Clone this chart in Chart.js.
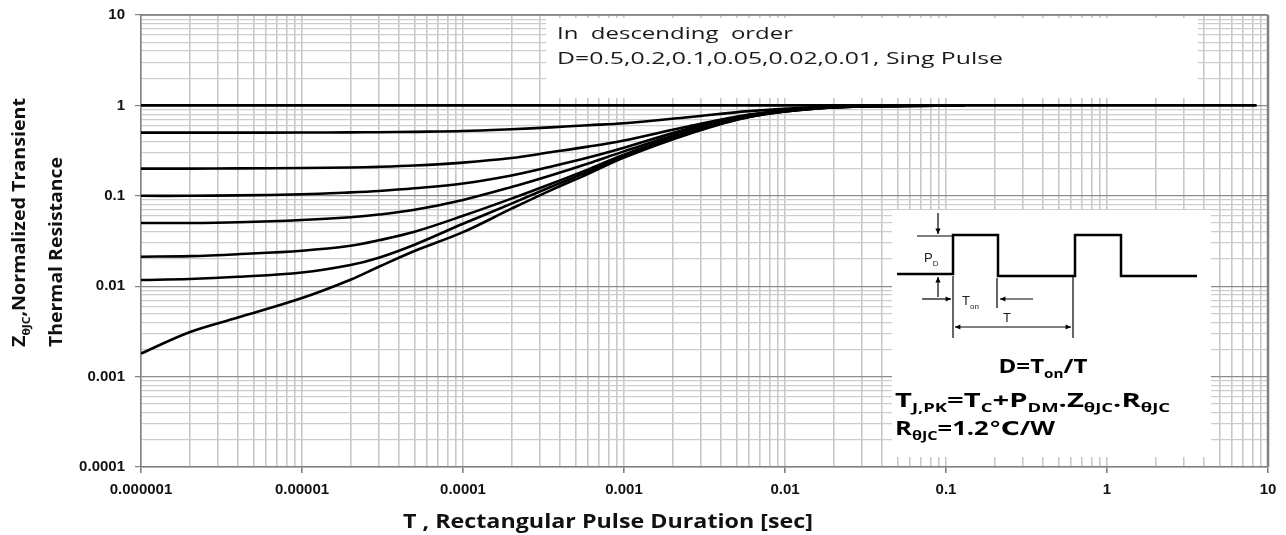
<!DOCTYPE html>
<html>
<head>
<meta charset="utf-8">
<script src="https://cdn.jsdelivr.net/npm/chart.js@4.4.1/dist/chart.umd.min.js"></script>
<style>
html, body { margin: 0; padding: 0; background: #fff; }
#wrap { width: 1286px; height: 535px; }
</style>
</head>
<body>
<div id="wrap"><canvas id="myChart"></canvas></div>
<script>
// pulse duration (s) sampled along the curves
const pulseTime = [0.000001, 0.000002, 0.000004, 0.00001, 0.00002, 0.00003, 0.00005, 0.0001, 0.0002, 0.00035, 0.0006, 0.001, 0.0025, 0.006, 0.016, 0.04, 0.13];

// normalized transient thermal resistance, one list per duty cycle
const zD05    = [0.5, 0.5, 0.5, 0.501, 0.503, 0.505, 0.51, 0.52, 0.545, 0.572, 0.603, 0.635, 0.74, 0.865, 0.96, 0.99, 1.0];
const zD02    = [0.2, 0.2, 0.201, 0.203, 0.206, 0.209, 0.216, 0.233, 0.262, 0.303, 0.35, 0.41, 0.585, 0.79, 0.95, 0.99, 1.0];
const zD01    = [0.1, 0.1, 0.101, 0.104, 0.109, 0.113, 0.121, 0.137, 0.168, 0.21, 0.265, 0.34, 0.55, 0.78, 0.94, 0.985, 1.0];
const zD005   = [0.05, 0.05, 0.051, 0.054, 0.058, 0.062, 0.07, 0.09, 0.125, 0.168, 0.228, 0.31, 0.52, 0.765, 0.935, 0.985, 1.0];
const zD002   = [0.0212, 0.0215, 0.0226, 0.0247, 0.028, 0.0322, 0.04, 0.06, 0.093, 0.135, 0.196, 0.285, 0.50, 0.755, 0.93, 0.98, 1.0];
const zD001   = [0.0117, 0.012, 0.0127, 0.0142, 0.0172, 0.0207, 0.0288, 0.049, 0.082, 0.125, 0.185, 0.275, 0.49, 0.75, 0.928, 0.98, 1.0];
const zSingle = [0.0018, 0.0031, 0.0045, 0.0074, 0.0118, 0.0164, 0.0245, 0.0396, 0.072, 0.115, 0.175, 0.265, 0.48, 0.745, 0.925, 0.978, 0.995];
const seriesLabels = ['D=0.5', 'D=0.2', 'D=0.1', 'D=0.05', 'D=0.02', 'D=0.01', 'Single Pulse'];

// the flat line at Z = 1
const unityTime = [0.000001, 8.5];
const unityZ = [1, 1];

const xTickLabels = ['0.000001', '0.00001', '0.0001', '0.001', '0.01', '0.1', '1', '10'];
const yTickLabels = ['0.0001', '0.001', '0.01', '0.1', '1', '10'];

function decadeTicks(lo, hi) {
  const t = [];
  for (let e = lo; e < hi; e++) {
    for (let m = 1; m < 10; m++) t.push({ value: m * Math.pow(10, e), major: m === 1 });
  }
  t.push({ value: Math.pow(10, hi), major: true });
  return t;
}
function isDecade(v) {
  const l = Math.log10(v);
  return Math.abs(l - Math.round(l)) < 1e-6;
}

function drawRich(ctx, parts, x, y, size, weight, family, targetW, align) {
  const subSize = Math.round(size * 0.62);
  const fontOf = sub => weight + ' ' + (sub ? subSize : size) + 'px ' + family;
  let w = 0;
  parts.forEach(p => { ctx.font = fontOf(p[1]); w += ctx.measureText(p[0]).width; });
  const sx = targetW ? targetW / w : 1;
  ctx.save();
  ctx.translate(x, y);
  ctx.scale(sx, 1);
  ctx.textAlign = 'left';
  ctx.textBaseline = 'alphabetic';
  let cx = align === 'center' ? -w / 2 : 0;
  parts.forEach(p => {
    ctx.font = fontOf(p[1]);
    ctx.fillText(p[0], cx, p[1] ? size * 0.28 : 0);
    cx += ctx.measureText(p[0]).width;
  });
  ctx.restore();
}

function arrow(ctx, x1, y1, x2, y2) {
  const a = Math.atan2(y2 - y1, x2 - x1);
  ctx.beginPath();
  ctx.moveTo(x1, y1);
  ctx.lineTo(x2, y2);
  ctx.stroke();
  ctx.beginPath();
  ctx.moveTo(x2, y2);
  ctx.lineTo(x2 - 6 * Math.cos(a - 0.45), y2 - 6 * Math.sin(a - 0.45));
  ctx.lineTo(x2 - 6 * Math.cos(a + 0.45), y2 - 6 * Math.sin(a + 0.45));
  ctx.closePath();
  ctx.fill();
}

const boxes = {
  id: 'boxes',
  beforeDatasetsDraw(chart) {
    const ctx = chart.ctx;
    const a = chart.chartArea;
    ctx.save();
    // frame top / right
    ctx.strokeStyle = '#808080';
    ctx.lineWidth = 1.5;
    ctx.beginPath();
    ctx.moveTo(a.left, a.top);
    ctx.lineTo(a.right, a.top);
    ctx.stroke();
    ctx.lineWidth = 2.5;
    ctx.beginPath();
    ctx.moveTo(a.right, a.top);
    ctx.lineTo(a.right, a.bottom);
    ctx.stroke();
    // white note boxes
    ctx.fillStyle = '#fff';
    ctx.fillRect(546, 18, 652, 80);
    ctx.fillRect(892, 210, 319, 247);
    ctx.restore();
  },
  afterDraw(chart) {
    const ctx = chart.ctx;
    ctx.save();
    ctx.fillStyle = '#1a1a1a';
    drawRich(ctx, [['In  descending  order']], 557, 39, 17, 'normal', '"Open Sans"', 236);
    drawRich(ctx, [['D=0.5,0.2,0.1,0.05,0.02,0.01, Sing Pulse']], 557, 64, 17, 'normal', '"Open Sans"', 446);

    // axis titles
    ctx.fillStyle = '#111';
    drawRich(ctx, [['T , Rectangular Pulse Duration [sec]']], 403, 528, 19, 'bold', '"Open Sans"', 410);
    ctx.save();
    ctx.translate(25, 347);
    ctx.rotate(-Math.PI / 2);
    drawRich(ctx, [['Z'], ['θJC', 1], [',Normalized Transient']], 0, 0, 18, 'bold', '"Open Sans"', 249);
    ctx.restore();
    ctx.save();
    ctx.translate(62, 347);
    ctx.rotate(-Math.PI / 2);
    drawRich(ctx, [['Thermal Resistance']], 0, 0, 18, 'bold', '"Open Sans"', 190);
    ctx.restore();

    // pulse train sketch
    ctx.strokeStyle = '#000';
    ctx.fillStyle = '#000';
    ctx.lineWidth = 2.5;
    ctx.beginPath();
    [[897, 274], [953, 274], [953, 235], [998, 235], [998, 276], [1075, 276], [1075, 235], [1121, 235], [1121, 276], [1197, 276]]
      .forEach((p, i) => i ? ctx.lineTo(p[0], p[1]) : ctx.moveTo(p[0], p[1]));
    ctx.stroke();
    ctx.lineWidth = 1.2;
    ctx.beginPath();
    ctx.moveTo(917, 236); ctx.lineTo(953, 236);
    ctx.moveTo(953, 276); ctx.lineTo(953, 338);
    ctx.moveTo(997, 278); ctx.lineTo(997, 308);
    ctx.moveTo(1073, 276); ctx.lineTo(1073, 338);
    ctx.stroke();
    arrow(ctx, 938, 213, 938, 234);
    arrow(ctx, 938, 297, 938, 277);
    arrow(ctx, 922, 299, 951, 299);
    arrow(ctx, 1033, 299, 1000, 299);
    arrow(ctx, 1013, 327, 1071, 327);
    arrow(ctx, 1013, 327, 955, 327);

    ctx.fillStyle = '#222';
    drawRich(ctx, [['P'], ['D', 1]], 924, 262, 13, 'normal', 'Arial, "Liberation Sans"');
    drawRich(ctx, [['T'], ['on', 1]], 962, 305, 13, 'normal', 'Arial, "Liberation Sans"');
    drawRich(ctx, [['T']], 1003, 322, 13, 'normal', 'Arial, "Liberation Sans"');

    ctx.fillStyle = '#000';
    const f = '"Open Sans", "DejaVu Sans"';
    drawRich(ctx, [['D=T'], ['on', 1], ['/T']], 1043, 373, 19, 'bold', f, 89, 'center');
    drawRich(ctx, [['T'], ['J,PK', 1], ['=T'], ['C', 1], ['+P'], ['DM', 1], ['.Z'], ['θJC', 1], ['.R'], ['θJC', 1]], 895, 407, 19, 'bold', f, 275);
    drawRich(ctx, [['R'], ['θJC', 1], ['=1.2℃/W']], 895, 435, 19, 'bold', f, 160);
    ctx.restore();
  }
};

const lineStyle = { borderColor: '#000', borderWidth: 2.6, pointRadius: 0, fill: false, tension: 0.35 };
const curveSets = [zD05, zD02, zD01, zD005, zD002, zD001, zSingle];
const datasets = curveSets.map((vals, i) => Object.assign({
  label: seriesLabels[i],
  data: pulseTime.map((t, j) => ({ x: t, y: vals[j] }))
}, lineStyle));
datasets.unshift(Object.assign({
  label: 'Z=1',
  data: unityTime.map((t, j) => ({ x: t, y: unityZ[j] }))
}, lineStyle));

Chart.defaults.font.family = '"Liberation Sans", Arial';

const ctx = document.getElementById('myChart').getContext('2d');
const myChart = new Chart(ctx, {
  type: 'line',
  data: { datasets: datasets },
  options: {
    responsive: true,
    maintainAspectRatio: false,
    animation: false,
    layout: { padding: { top: 15, right: 18, left: 0, bottom: 0 } },
    plugins: { legend: { display: false }, tooltip: { enabled: false } },
    scales: {
      x: {
        type: 'logarithmic',
        min: 0.000001,
        max: 10,
        afterBuildTicks: s => { s.ticks = decadeTicks(-6, 1); },
        afterFit: s => { s.height = 68; },
        ticks: {
          autoSkip: false,
          maxRotation: 0,
          padding: 8,
          color: '#111',
          font: { size: 15, weight: 'bold' },
          callback: (v) => isDecade(v) ? xTickLabels[Math.round(Math.log10(v)) + 6] : ''
        },
        grid: {
          color: '#c8c8c8',
          lineWidth: 1.6,
          tickLength: 6,
          tickColor: c => (c.tick && isDecade(c.tick.value)) ? '#808080' : 'rgba(0,0,0,0)'
        },
        border: { display: true, color: '#808080', width: 1.5 }
      },
      y: {
        type: 'logarithmic',
        min: 0.0001,
        max: 10,
        afterBuildTicks: s => { s.ticks = decadeTicks(-4, 1); },
        afterFit: s => { s.width = 141; s.paddingTop = 5; s.paddingBottom = 5; },
        ticks: {
          autoSkip: false,
          padding: 10,
          color: '#111',
          font: { size: 15, weight: 'bold' },
          callback: (v) => isDecade(v) ? yTickLabels[Math.round(Math.log10(v)) + 4] : ''
        },
        grid: {
          color: c => (c.tick && isDecade(c.tick.value)) ? '#8c8c8c' : '#cdcdcd',
          lineWidth: 1.2,
          tickLength: 6,
          tickColor: c => (c.tick && isDecade(c.tick.value)) ? '#808080' : 'rgba(0,0,0,0)'
        },
        border: { display: true, color: '#808080', width: 1.5 }
      }
    }
  },
  plugins: [boxes]
});
</script>
</body>
</html>
